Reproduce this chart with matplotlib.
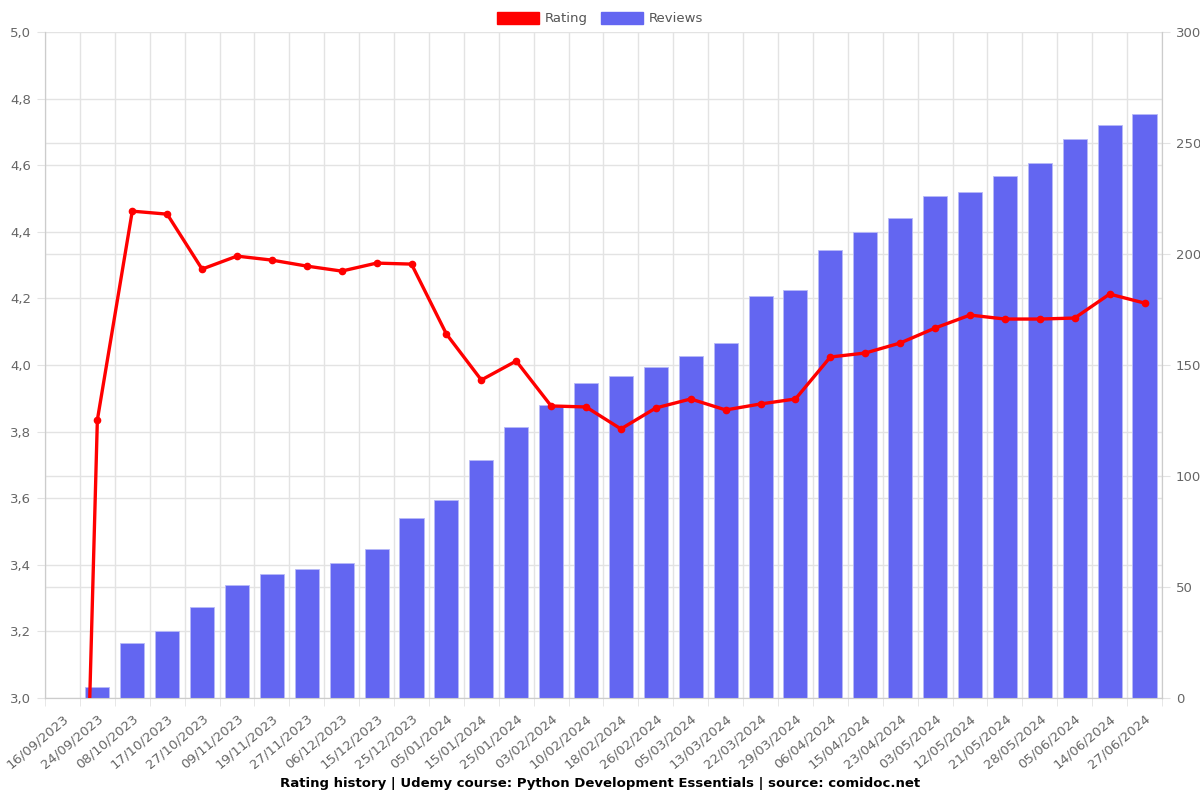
import numpy as np
import matplotlib.pyplot as plt
from matplotlib.patches import Patch
from matplotlib.ticker import FuncFormatter

dates = ["16/09/2023", "24/09/2023", "08/10/2023", "17/10/2023", "27/10/2023",
         "09/11/2023", "19/11/2023", "27/11/2023", "06/12/2023", "15/12/2023",
         "25/12/2023", "05/01/2024", "15/01/2024", "25/01/2024", "03/02/2024",
         "10/02/2024", "18/02/2024", "26/02/2024", "05/03/2024", "13/03/2024",
         "22/03/2024", "29/03/2024", "06/04/2024", "15/04/2024", "23/04/2024",
         "03/05/2024", "12/05/2024", "21/05/2024", "28/05/2024", "05/06/2024",
         "14/06/2024", "27/06/2024"]
rating = [0.0, 3.835, 4.462, 4.453, 4.288, 4.327, 4.315, 4.297, 4.282, 4.306,
          4.303, 4.093, 3.955, 4.012, 3.877, 3.874, 3.808, 3.871, 3.898, 3.865,
          3.883, 3.898, 4.024, 4.036, 4.066, 4.111, 4.150, 4.138, 4.138, 4.141,
          4.213, 4.186]
reviews = [0, 5, 25, 30, 41, 51, 56, 58, 61, 67, 81, 89, 107, 122, 132, 142,
           145, 149, 154, 160, 181, 184, 202, 210, 216, 226, 228, 235, 241, 252,
           258, 263]

GRID = "#e3e3e3"
TXT = "#666666"

x = np.arange(len(dates))

fig = plt.figure(figsize=(12, 8), dpi=100)
ax = fig.add_axes([0.0375, 0.1275, 0.9308, 0.8325])
ax2 = ax.twinx()

# bars on the base axes (right scale), line on the twin (left scale) so it sits on top
ax.bar(x, reviews, width=0.69, color="#6366f1", edgecolor="#b8baf8", linewidth=0.6, zorder=3)
ax.set_ylim(0, 300)
ax.set_yticks(np.arange(0, 301, 50))
# left-scale gridlines (every 0.2) fall on every 30 reviews
ax.set_yticks(np.arange(0, 301, 30), minor=True)
ax.yaxis.tick_right()
ax.yaxis.set_label_position("right")
ax.tick_params(axis="y", which="minor", length=0)

ax2.plot(x, rating, color="#ff0000", linewidth=2.4, marker="o", markersize=4.5, zorder=4)
ax2.set_ylim(3.0, 5.0)
ax2.set_yticks(np.arange(3.0, 5.01, 0.2))
ax2.yaxis.set_major_formatter(FuncFormatter(lambda v, p: f"{v:.1f}".replace(".", ",")))
ax2.yaxis.tick_left()
ax2.yaxis.set_label_position("left")

ax.set_xlim(-0.5, len(dates) - 0.5)
ax.set_xticks(x)
ax.set_xticklabels(dates, rotation=40, ha="right", rotation_mode="anchor")
ax.set_xticks(np.arange(-0.5, len(dates), 1.0), minor=True)
ax.tick_params(axis="x", which="major", length=0, pad=10)
ax.tick_params(axis="x", which="minor", length=6, color=GRID)

ax.grid(True, which="minor", axis="x", color=GRID, linewidth=1, zorder=0)
ax.grid(True, which="both", axis="y", color=GRID, linewidth=1, zorder=0)
ax.set_axisbelow(True)

for a in (ax, ax2):
    a.tick_params(axis="y", which="major", length=6, color=GRID, labelcolor=TXT, labelsize=9.5, pad=4)
    a.tick_params(axis="x", labelcolor=TXT, labelsize=9.5)
    for s in a.spines.values():
        s.set_color("#cccccc")
    a.spines["top"].set_visible(False)

fig.legend(handles=[Patch(facecolor="#ff0000", edgecolor="#ff0000", label="Rating"),
                    Patch(facecolor="#6366f1", edgecolor="#6366f1", label="Reviews")],
           loc="upper center", bbox_to_anchor=(0.5, 1.0), ncol=2, frameon=False,
           fontsize=9.5, handlelength=3.2, handleheight=1.0, columnspacing=1.0,
           handletextpad=0.4, labelcolor="#555555")

fig.text(0.5, 0.012, "Rating history | Udemy course: Python Development Essentials | source: comidoc.net",
         ha="center", va="bottom", fontsize=9.5, fontweight="bold")

fig.savefig("out.png", dpi=100)
